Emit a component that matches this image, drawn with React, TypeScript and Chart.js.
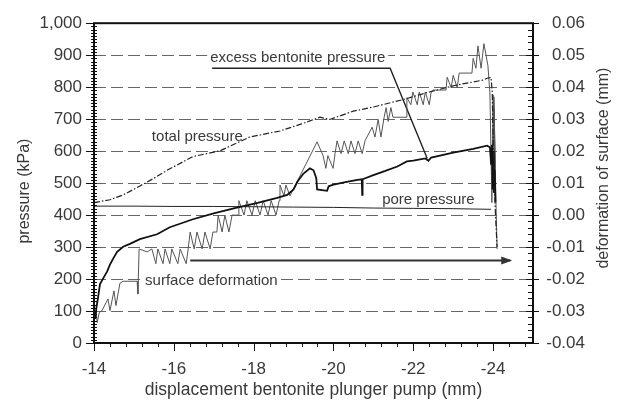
import React, { useEffect, useRef } from 'react';
import { Chart, registerables } from 'chart.js';

Chart.register(...registerables);

// ---------- data ----------
const xTicks = [-14, -16, -18, -20, -22, -24];
const pressureTicks = [0, 100, 200, 300, 400, 500, 600, 700, 800, 900, 1000];
const deformationTicks = [-0.04, -0.03, -0.02, -0.01, 0.0, 0.01, 0.02, 0.03, 0.04, 0.05, 0.06];

const totalX = [-14.0, -14.4, -14.73, -15.15, -15.5, -15.83, -16.48, -17.16, -17.9, -18.66, -19.2, -19.66, -19.91, -20.5, -21.0, -21.74, -22.4, -23.1, -23.75, -23.85, -23.95, -23.98, -24.0, -24.03, -24.06, -24.1];
const totalY = [439, 448, 463, 491, 515, 540, 583, 601, 644, 663, 685, 706, 699, 725, 738, 761, 785, 807, 822, 828, 830, 780, 640, 500, 400, 300];

const excessX = [-14.03, -14.06, -14.1, -14.15, -14.23, -14.33, -14.4, -14.48, -14.58, -14.73, -14.9, -15.15, -15.58, -15.9, -16.48, -17.0, -17.58, -18.1, -18.59, -18.84, -19.0, -19.1, -19.25, -19.41, -19.5, -19.57, -19.59, -19.84, -19.88, -20.0, -20.3, -20.6, -20.71, -20.72, -20.73, -21.0, -21.3, -21.6, -21.84, -22.0, -22.3, -22.38, -22.45, -23.0, -23.5, -23.85, -23.92, -23.95, -23.97, -23.99, -24.0, -24.02, -24.04, -24.06];
const excessY = [75, 110, 141, 184, 202, 224, 245, 264, 285, 301, 310, 325, 340, 362, 387, 405, 423, 438, 454, 463, 480, 505, 530, 546, 540, 515, 480, 476, 490, 495, 503, 510, 512, 463, 512, 525, 538, 552, 568, 570, 577, 570, 580, 595, 607, 617, 612, 560, 620, 480, 600, 470, 540, 440];

const poreX = [-14.0, -15.0, -16.0, -17.0, -18.0, -19.0, -20.0, -21.0, -22.0, -23.0, -23.95];
const poreY = [428, 428, 427, 427, 426, 425, 424, 422, 421, 420, 418];

const deformX = [-14.05, -14.08, -14.13, -14.2, -14.35, -14.4, -14.5, -14.55, -14.65, -14.73, -15.08, -15.1, -15.13, -15.33, -15.45, -15.55, -15.6, -15.73, -15.78, -15.9, -15.95, -16.1, -16.16, -16.31, -16.36, -16.41, -16.51, -16.58, -16.71, -16.78, -16.91, -16.98, -17.08, -17.11, -17.21, -17.28, -17.38, -17.46, -17.61, -17.63, -17.76, -17.83, -17.96, -18.04, -18.16, -18.24, -18.36, -18.44, -18.56, -18.64, -18.66, -18.76, -18.81, -18.91, -19.59, -19.74, -19.81, -19.86, -19.99, -20.04, -20.09, -20.19, -20.27, -20.37, -20.44, -20.54, -20.62, -20.72, -20.79, -20.84, -20.97, -21.04, -21.12, -21.19, -21.27, -21.32, -21.37, -21.44, -21.49, -21.82, -21.84, -21.94, -21.99, -22.1, -22.15, -22.25, -22.3, -22.4, -22.45, -22.5, -22.82, -22.85, -22.95, -23.0, -23.1, -23.15, -23.47, -23.5, -23.57, -23.62, -23.7, -23.77, -23.87, -23.92, -23.97, -24.0, -24.03, -24.01, -24.06, -24.03, -24.05, -24.02, -24.07, -24.1];
const deformY = [-0.0299, -0.0336, -0.0305, -0.0299, -0.0262, -0.0299, -0.0237, -0.0283, -0.0213, -0.0207, -0.0207, -0.0247, -0.0106, -0.0115, -0.0106, -0.0152, -0.0106, -0.0152, -0.0106, -0.0152, -0.0106, -0.0152, -0.0106, -0.0152, -0.0106, -0.0053, -0.0106, -0.0053, -0.0106, -0.0053, -0.0106, -0.0053, -0.0053, 0.0, -0.0053, 0.0, -0.0053, 0.0, 0.0, 0.0045, 0.0, 0.0045, 0.0, 0.0045, 0.0, 0.0045, 0.0, 0.0045, 0.0, 0.0045, 0.0094, 0.006, 0.0094, 0.006, 0.0229, 0.0186, 0.0146, 0.0186, 0.0146, 0.0192, 0.0232, 0.0192, 0.0232, 0.0192, 0.0232, 0.0192, 0.0232, 0.0192, 0.0232, 0.0244, 0.0275, 0.0244, 0.0299, 0.0244, 0.0306, 0.0336, 0.0293, 0.0336, 0.0306, 0.0306, 0.0367, 0.0345, 0.0385, 0.0345, 0.0385, 0.0345, 0.0385, 0.0345, 0.0385, 0.0391, 0.0391, 0.0431, 0.0398, 0.0437, 0.0398, 0.0444, 0.0444, 0.049, 0.0459, 0.0529, 0.0459, 0.0536, 0.0468, 0.0382, 0.0039, 0.0376, 0.0069, 0.036, 0.0045, 0.033, 0.008, 0.037, 0.005, -0.0106];

// direction arrow (kPa axis) and label leader line
const arrowX = [-16.41, -24.43];
const arrowY = [258, 258];
const leaderX = [-16.96, -21.42, -22.35];
const leaderY = [859, 859, 577];

const annotationTexts = ['excess bentonite pressure', 'total pressure', 'surface deformation', 'pore pressure'];
const annotationX = [-16.91, -15.45, -15.28, -21.22];
const annotationY = [893, 644, 193, 447];
const annotationBg = [true, false, true, false];

const xTitle = 'displacement bentonite plunger pump (mm)';
const yTitle = 'pressure (kPa)';
const y2Title = 'deformation of surface (mm)';

// ---------- styling ----------
const FONT = '"Liberation Sans", Arial, Helvetica, sans-serif';
const TEXT = '#3a3a3a';

const pts = (xs: number[], ys: number[]) => xs.map((x, i) => ({ x, y: ys[i] }));
const fmtThousands = (v: number) => String(v).replace(/\B(?=(\d{3})+(?!\d))/g, ',');

const decorPlugin = {
  id: 'decor',
  afterDatasetsDraw(chart: any) {
    const { ctx, chartArea: a, scales } = chart;
    const xs = scales.x, ys = scales.y, y2 = scales.y2;
    ctx.save();

    // annotation labels
    ctx.font = `15px ${FONT}`;
    ctx.textBaseline = 'middle';
    ctx.textAlign = 'left';
    annotationTexts.forEach((t, i) => {
      const px = xs.getPixelForValue(annotationX[i]);
      const py = ys.getPixelForValue(annotationY[i]);
      if (annotationBg[i]) {
        const w = ctx.measureText(t).width;
        ctx.fillStyle = '#fff';
        ctx.fillRect(px - 3, py - 8, w + 6, 16);
      }
      ctx.fillStyle = TEXT;
      ctx.fillText(t, px, py);
    });

    // arrow head
    const am = chart.getDatasetMeta(4).data;
    const p1 = am[am.length - 1], p0 = am[am.length - 2];
    const ang = Math.atan2(p1.y - p0.y, p1.x - p0.x);
    ctx.save();
    ctx.translate(p1.x, p1.y);
    ctx.rotate(ang);
    ctx.beginPath();
    ctx.moveTo(2, 0);
    ctx.lineTo(-9, -4);
    ctx.lineTo(-9, 4);
    ctx.closePath();
    ctx.fillStyle = '#333';
    ctx.fill();
    ctx.restore();

    // axis tick marks
    ctx.strokeStyle = '#111';
    ctx.lineWidth = 1;
    ctx.beginPath();
    for (let i = 0; i <= 100; i++) {
      const py = Math.round(ys.getPixelForValue(i * 10)) + 0.5;
      const major = i % 10 === 0;
      ctx.moveTo(a.left - (major ? 8 : 3), py);
      ctx.lineTo(a.left + 3, py);
    }
    for (let i = 0; i <= 50; i++) {
      const py = Math.round(y2.getPixelForValue(-0.04 + i * 0.002)) + 0.5;
      const major = i % 5 === 0;
      ctx.moveTo(a.right - (major ? 7 : 5), py);
      ctx.lineTo(a.right + (major ? 6 : 1), py);
    }
    for (let i = 0; i <= 27; i++) {
      const px = Math.round(xs.getPixelForValue(-14 - i * 0.4)) + 0.5;
      const major = i % 5 === 0;
      ctx.moveTo(px, a.bottom);
      ctx.lineTo(px, a.bottom + (major ? 8 : 4));
    }
    ctx.stroke();

    // frame
    ctx.lineWidth = 2;
    ctx.strokeStyle = '#111';
    ctx.strokeRect(a.left, a.top, a.right - a.left, a.bottom - a.top);

    // axis titles
    ctx.fillStyle = TEXT;
    ctx.textAlign = 'center';
    ctx.textBaseline = 'middle';
    ctx.font = `17.5px ${FONT}`;
    ctx.fillText(xTitle, (a.left + a.right) / 2, a.bottom + 47);
    ctx.font = `16px ${FONT}`;
    ctx.save();
    ctx.translate(25, (a.top + a.bottom) / 2 + 8);
    ctx.rotate(-Math.PI / 2);
    ctx.fillText(yTitle, 0, 0);
    ctx.restore();
    ctx.save();
    ctx.translate(604, (a.top + a.bottom) / 2 - 15);
    ctx.rotate(-Math.PI / 2);
    ctx.fillText(y2Title, 0, 0);
    ctx.restore();

    ctx.restore();
  },
};

export default function App() {
  const ref = useRef<HTMLCanvasElement>(null);

  useEffect(() => {
    if (!ref.current) return;
    const tickFont = { family: FONT, size: 17 };
    const chart = new Chart(ref.current, {
      type: 'line',
      data: {
        datasets: [
          { label: 'total pressure', data: pts(totalX, totalY), yAxisID: 'y', borderColor: '#222', borderWidth: 1.2, borderDash: [6, 2, 1.5, 2], pointRadius: 0, fill: false },
          { label: 'excess bentonite pressure', data: pts(excessX, excessY), yAxisID: 'y', borderColor: '#111', borderWidth: 1.8, pointRadius: 0, fill: false },
          { label: 'pore pressure', data: pts(poreX, poreY), yAxisID: 'y', borderColor: '#222', borderWidth: 1, pointRadius: 0, fill: false },
          { label: 'surface deformation', data: pts(deformX, deformY), yAxisID: 'y2', borderColor: '#555', borderWidth: 1, pointRadius: 0, fill: false },
          { label: 'arrow', data: pts(arrowX, arrowY), yAxisID: 'y', borderColor: '#333', borderWidth: 2, pointRadius: 0, fill: false },
          { label: 'leader', data: pts(leaderX, leaderY), yAxisID: 'y', borderColor: '#222', borderWidth: 1.4, pointRadius: 0, fill: false },
        ],
      },
      options: {
        responsive: false,
        animation: false,
        events: [],
        layout: { padding: { top: 17, left: 0, right: 38, bottom: 0 } },
        plugins: { legend: { display: false }, tooltip: { enabled: false } },
        elements: { line: { tension: 0 } },
        scales: {
          x: {
            type: 'linear',
            min: -25,
            max: -14,
            reverse: true,
            position: 'bottom',
            grid: { display: false, drawTicks: false },
            border: { display: false },
            ticks: { font: tickFont, color: TEXT, padding: 16, maxRotation: 0 },
            afterBuildTicks: (s: any) => { s.ticks = xTicks.map((value) => ({ value })); },
            afterFit: (s: any) => { s.height = 61; },
          },
          y: {
            type: 'linear',
            min: 0,
            max: 1000,
            position: 'left',
            grid: { display: true, drawTicks: false, color: '#666', lineWidth: 1 },
            border: { display: false, dash: [12, 5] },
            ticks: { font: tickFont, color: TEXT, padding: 12, callback: (v: any) => fmtThousands(Number(v)) },
            afterBuildTicks: (s: any) => { s.ticks = pressureTicks.map((value) => ({ value })); },
            afterFit: (s: any) => { s.width = 94; },
          },
          y2: {
            type: 'linear',
            min: -0.04,
            max: 0.06,
            position: 'right',
            grid: { display: false, drawTicks: false },
            border: { display: false },
            ticks: { font: tickFont, color: TEXT, padding: 13, crossAlign: 'far', callback: (v: any) => Number(v).toFixed(2) },
            afterBuildTicks: (s: any) => { s.ticks = deformationTicks.map((value) => ({ value })); },
            afterFit: (s: any) => { s.width = 52; },
          },
        },
      },
      plugins: [decorPlugin],
    } as any);
    return () => chart.destroy();
  }, []);

  return (
    <div style={{ position: 'absolute', left: 0, top: 0, width: 623, height: 404, background: '#fff' }}>
      <canvas ref={ref} width={623} height={404} style={{ display: 'block', width: 623, height: 404 }} />
    </div>
  );
}
